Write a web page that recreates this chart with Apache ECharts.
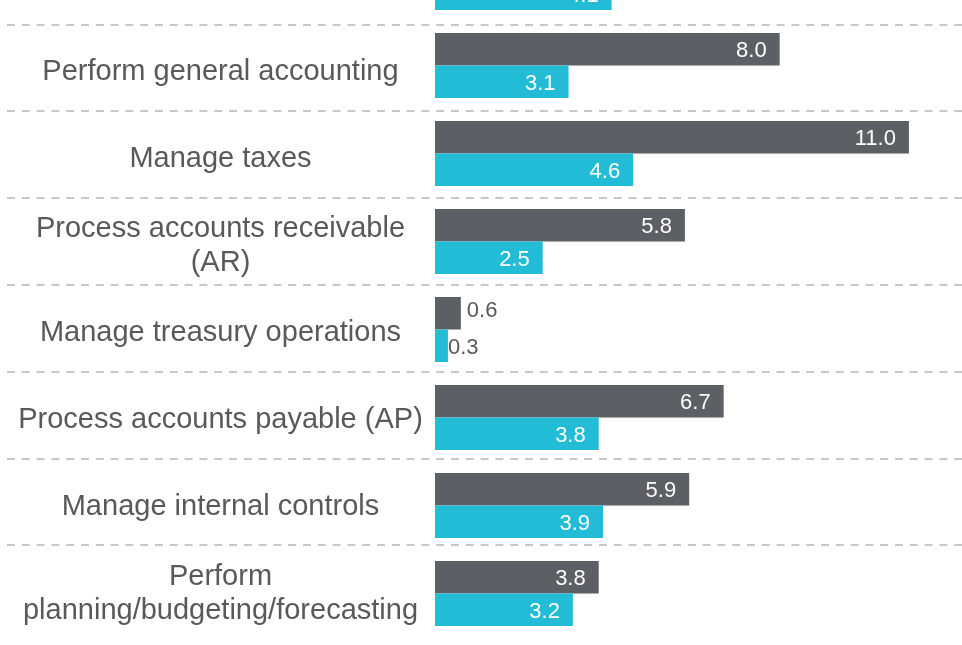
<!DOCTYPE html>
<html><head><meta charset="utf-8">
<script src="https://cdn.jsdelivr.net/npm/echarts@6/dist/echarts.min.js"></script>
<style>html,body{margin:0;padding:0;background:#fff}#c{width:962px;height:645px}</style>
</head><body><div id="c"></div>
<script>
// Top category is cut off in the reference (name and dark value not visible)
const categories = [
  '',
  'Perform general accounting',
  'Manage taxes',
  'Process accounts receivable\n(AR)',
  'Manage treasury operations',
  'Process accounts payable (AP)',
  'Manage internal controls',
  'Perform\nplanning/budgeting/forecasting'
];
const darkValues = [null, 8.0, 11.0, 5.8, 0.6, 6.7, 5.9, 3.8];
const cyanValues = [4.1, 3.1, 4.6, 2.5, 0.3, 3.8, 3.9, 3.2];
const separatorBands = 7;

const FONT = 'Liberation Sans, Arial, Helvetica, sans-serif';
const GRAY_TEXT = '#595959';

function buildItems(values, dist, offY) {
  return values.map(function (v) {
    if (v == null) return v;
    if (v < 1) {
      return { value: v, label: { position: 'right', color: GRAY_TEXT, distance: dist, offset: [0, offY] } };
    }
    return v;
  });
}

const baseLabel = {
  show: true,
  position: 'insideRight',
  distance: 13,
  offset: [0, 2],
  color: '#ffffff',
  fontSize: 22,
  fontFamily: FONT,
  formatter: function (p) { return Number(p.value).toFixed(1); }
};

const chart = echarts.init(document.getElementById('c'));
chart.setOption({
  animation: false,
  backgroundColor: '#ffffff',
  grid: [
    { left: 435, right: 10, top: -66.5, bottom: 7.5, outerBoundsMode: 'none' },
    { left: 7, right: -20, top: -62.5, bottom: 99.9, outerBoundsMode: 'none' },
    { left: 435, right: 10, top: -59, bottom: 8, outerBoundsMode: 'none' }
  ],
  xAxis: [
    { type: 'value', gridIndex: 0, min: 0, max: 12, show: false },
    { type: 'value', gridIndex: 1, min: 0, max: 1, show: false },
    { type: 'value', gridIndex: 2, min: 0, max: 1, show: false }
  ],
  yAxis: [
    {
      type: 'category', gridIndex: 0, data: categories, inverse: true,
      axisLine: { show: false }, axisTick: { show: false }, splitLine: { show: false },
      axisLabel: { show: false }
    },
    {
      type: 'value', gridIndex: 1, min: 0, max: separatorBands, interval: 1,
      axisLine: { show: false }, axisTick: { show: false }, axisLabel: { show: false },
      splitLine: { show: true, lineStyle: { color: '#c8c8c8', width: 2, type: [8, 6.8] } }
    },
    {
      type: 'category', gridIndex: 2, data: categories, inverse: true,
      axisLine: { show: false }, axisTick: { show: false }, splitLine: { show: false },
      axisLabel: {
        align: 'center', margin: 214.5, fontSize: 29, lineHeight: 34,
        color: GRAY_TEXT, fontFamily: FONT
      }
    }
  ],
  series: [
    {
      type: 'bar', xAxisIndex: 0, yAxisIndex: 0,
      data: buildItems(darkValues, 6, -2.5),
      barWidth: 32.5, barGap: '0%',
      itemStyle: { color: '#5e5f64' },
      label: baseLabel
    },
    {
      type: 'bar', xAxisIndex: 0, yAxisIndex: 0,
      data: buildItems(cyanValues, 0, 2),
      barWidth: 32.5, barGap: '0%',
      itemStyle: { color: '#23bcd6' },
      label: baseLabel
    }
  ]
});
</script>
</body></html>
